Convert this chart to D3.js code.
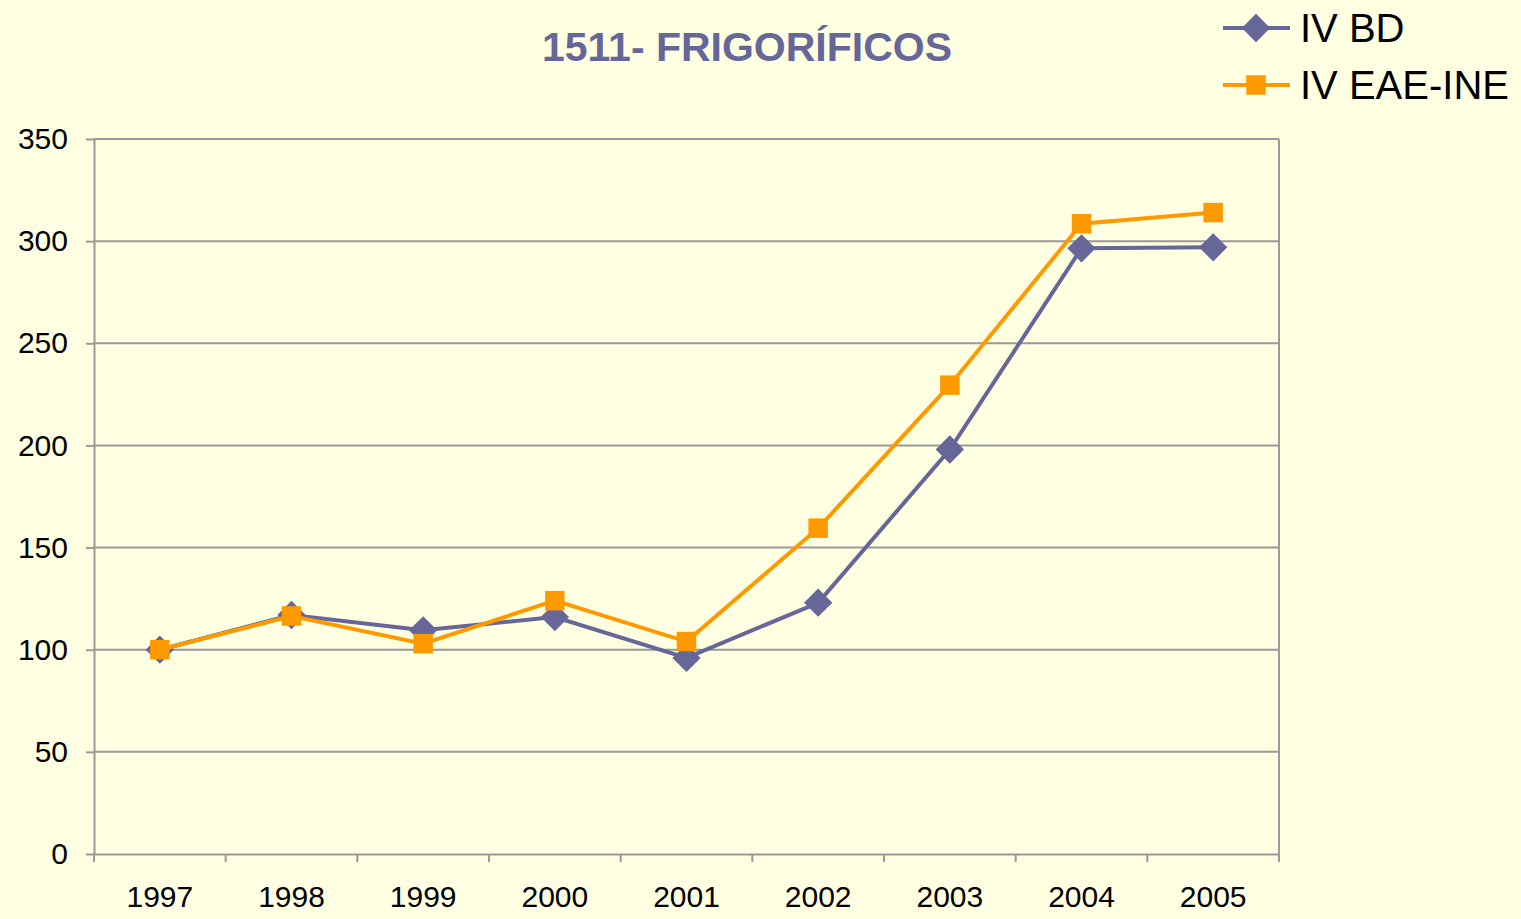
<!DOCTYPE html>
<html>
<head>
<meta charset="utf-8">
<script src="https://cdn.jsdelivr.net/npm/d3@7"></script>
<style>
  body { margin: 0; background: #ffffe1; }
  svg { display: block; font-family: "Liberation Sans", Arial, sans-serif; }
</style>
</head>
<body>
<svg id="chart" width="1521" height="919"></svg>
<script>
var years = ['1997', '1998', '1999', '2000', '2001', '2002', '2003', '2004', '2005'];
var iv_bd = [100, 117, 109.5, 116, 96, 123, 198, 296.5, 297];
var iv_eae = [100, 116.5, 103, 124, 104, 159.5, 229.5, 308.5, 314];
var y_ticks = [0, 50, 100, 150, 200, 250, 300, 350];

var svg = d3.select('#chart');
var plot = { left: 94, right: 1279, top: 139, bottom: 854 };

var x = d3.scaleBand().domain(years).range([plot.left, plot.right]);
var y = d3.scaleLinear().domain([0, 350]).range([plot.bottom, plot.top]);

// horizontal grid lines
svg.append('g')
  .selectAll('line')
  .data(y_ticks.filter(function(d){ return d > 0; }))
  .enter()
  .append('line')
  .attr('x1', plot.left)
  .attr('x2', plot.right)
  .attr('y1', function(d){ return y(d); })
  .attr('y2', function(d){ return y(d); })
  .style('stroke', '#999')
  .style('stroke-width', '2px');

// right border
svg.append('line')
  .attr('x1', plot.right).attr('x2', plot.right)
  .attr('y1', plot.top).attr('y2', plot.bottom)
  .style('stroke', '#999').style('stroke-width', '2px');

// y axis
var y_axis = svg.append('g')
  .attr('transform', 'translate(' + plot.left + ',0)')
  .call(d3.axisLeft(y).tickValues(y_ticks).tickSizeInner(8).tickSizeOuter(0).tickPadding(18));

// x axis
var x_axis = svg.append('g')
  .attr('transform', 'translate(0,' + plot.bottom + ')')
  .call(d3.axisBottom(x).tickSize(0).tickPadding(32));

svg.append('g')
  .selectAll('line')
  .data(d3.range(years.length + 1))
  .enter()
  .append('line')
  .attr('x1', function(i){ return plot.left + i * x.step(); })
  .attr('x2', function(i){ return plot.left + i * x.step(); })
  .attr('y1', plot.bottom)
  .attr('y2', plot.bottom + 8)
  .style('stroke', '#999')
  .style('stroke-width', '2px');

[y_axis, x_axis].forEach(function(ax){
  ax.select('.domain').style('stroke', '#999').style('stroke-width', '2px');
  ax.selectAll('.tick line').style('stroke', '#999').style('stroke-width', '2px');
  ax.selectAll('text').style('font-size', '30px').style('fill', '#000').style('font-family', '"Liberation Sans", Arial, sans-serif');
});

var px = function(i){ return x(years[i]) + x.bandwidth() / 2; };
var line = d3.line().x(function(d, i){ return px(i); }).y(function(d){ return y(d); });

var series = [
  { name: 'IV BD', values: iv_bd, color: '#666699', symbol: d3.symbolSquare, size: 400, rotate: 45 },
  { name: 'IV EAE-INE', values: iv_eae, color: '#ff9900', symbol: d3.symbolSquare, size: 380, rotate: 0 }
];

series.forEach(function(s){
  svg.append('path')
    .datum(s.values)
    .attr('d', line)
    .style('fill', 'none')
    .style('stroke', s.color)
    .style('stroke-width', '4px');

  svg.append('g')
    .selectAll('path')
    .data(s.values)
    .enter()
    .append('path')
    .attr('transform', function(d, i){ return 'translate(' + px(i) + ',' + y(d) + ') rotate(' + s.rotate + ')'; })
    .attr('d', d3.symbol().type(s.symbol).size(s.size))
    .style('fill', s.color);
});

// title
svg.append('text')
  .attr('x', 747)
  .attr('y', 61)
  .attr('text-anchor', 'middle')
  .style('font-size', '41px')
  .style('font-weight', 'bold')
  .style('fill', '#666699')
  .text('1511- FRIGORÍFICOS');

// legend
var legend = svg.append('g')
  .selectAll('g')
  .data(series)
  .enter()
  .append('g')
  .attr('transform', function(d, i){ return 'translate(1223,' + (28 + i * 57) + ')'; });

legend.append('line')
  .attr('x1', 0).attr('x2', 67)
  .style('stroke', function(d){ return d.color; })
  .style('stroke-width', '4px');

legend.append('path')
  .attr('transform', function(d){ return 'translate(33,0) rotate(' + d.rotate + ')'; })
  .attr('d', function(d){ return d3.symbol().type(d.symbol).size(d.size)(); })
  .style('fill', function(d){ return d.color; });

legend.append('text')
  .attr('x', 77)
  .attr('y', 14)
  .style('font-size', '40px')
  .style('fill', '#000')
  .text(function(d){ return d.name; });
</script>
</body>
</html>
